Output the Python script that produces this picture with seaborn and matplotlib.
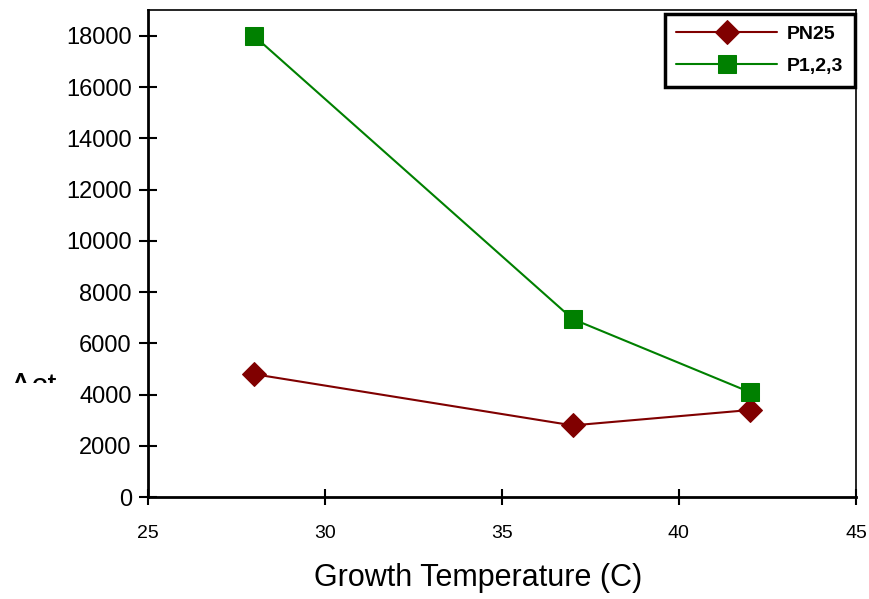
import matplotlib
matplotlib.use("Agg")
import matplotlib.pyplot as plt
from matplotlib.transforms import Bbox
import seaborn as sns
import pandas as pd

temps = [28, 37, 42]
pn25 = [4800, 2800, 3400]
p123 = [18000, 6950, 4100]

sns.set_style("white")
plt.rcParams['font.family'] = ['Liberation Sans', 'DejaVu Sans']
plt.rcParams['text.color'] = 'black'
plt.rcParams['xtick.color'] = 'black'
plt.rcParams['ytick.color'] = 'black'
plt.rcParams['axes.labelcolor'] = 'black'

df = pd.DataFrame({
    "temp": temps * 2,
    "value": pn25 + p123,
    "series": ["PN25"] * 3 + ["P1,2,3"] * 3,
})

fig = plt.figure(figsize=(8.69, 5.99), dpi=100)
ax = fig.add_axes([0.170, 0.170, 0.815, 0.813])

sns.lineplot(data=df[df.series == "PN25"], x="temp", y="value", color="#800000",
             marker="D", markersize=12, markeredgecolor="#800000", linewidth=1.5,
             label="PN25", ax=ax)
sns.lineplot(data=df[df.series == "P1,2,3"], x="temp", y="value", color="#008000",
             marker="s", markersize=13, markeredgecolor="#008000", linewidth=1.5,
             label="P1,2,3", ax=ax)

ax.set_xlim(25, 45)
ax.set_ylim(0, 19000)
ax.set_xticks([25, 30, 35, 40, 45])
ax.set_yticks(range(0, 18001, 2000))
ax.tick_params(axis="x", direction="inout", length=12, width=1.5, labelsize=14, pad=14,
               bottom=True)
ax.tick_params(axis="y", direction="inout", length=13, width=1.5, labelsize=17, pad=5,
               left=True)
for side in ["left", "bottom"]:
    ax.spines[side].set_linewidth(2)
    ax.spines[side].set_color("black")
for side in ["top", "right"]:
    ax.spines[side].set_linewidth(1.2)
    ax.spines[side].set_color("black")

ax.set_xlabel("Growth Temperature (C)", fontsize=22)
ax.xaxis.set_label_coords(0.467, -0.135)
ax.set_ylabel("")

leg = ax.legend(loc="upper right", bbox_to_anchor=(0.999, 0.993),
                prop={"weight": "bold", "size": 14}, frameon=True, fancybox=False,
                edgecolor="black", framealpha=1, handlelength=5.2, handletextpad=0.5,
                borderpad=0.6, labelspacing=0.75, borderaxespad=0)
leg.get_frame().set_linewidth(2.5)

t = fig.text(10 / 869, 1 - 395 / 599, "Δct", fontsize=23, ha="left", va="baseline")
t.set_clip_box(Bbox.from_extents(0, 599 - 383, 120, 599))
t.set_clip_on(True)

fig.savefig("out.png", dpi=100)
